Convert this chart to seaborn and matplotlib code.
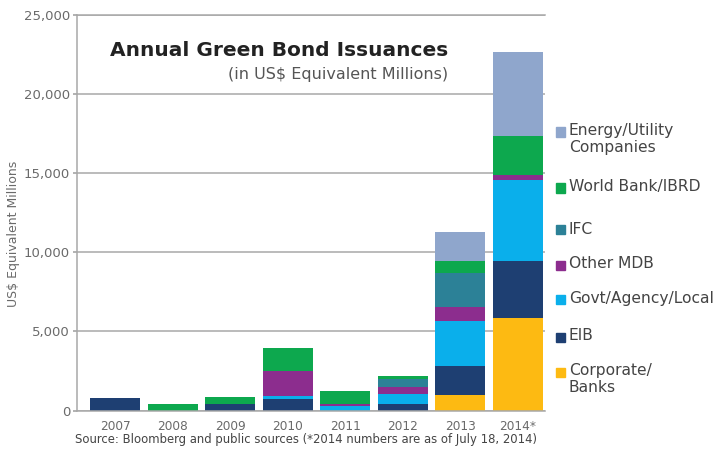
import numpy as np
import pandas as pd
import matplotlib
matplotlib.use("Agg")
import matplotlib.pyplot as plt
import seaborn as sns
from matplotlib.patches import Rectangle
from matplotlib.ticker import FuncFormatter

# ---- data (US$ equivalent millions) ----
years = ["2007", "2008", "2009", "2010", "2011", "2012", "2013", "2014*"]
energy = [0, 0, 0, 0, 0, 0, 1835, 5335]
world_bank = [0, 410, 490, 1480, 800, 150, 740, 2425]
ifc = [0, 0, 0, 0, 0, 550, 2150, 0]
other_mdb = [0, 0, 0, 1580, 130, 420, 905, 360]
govt = [0, 0, 0, 210, 300, 630, 2850, 5105]
eib = [770, 0, 380, 700, 0, 420, 1790, 3585]
corporate = [0, 0, 0, 0, 0, 0, 1010, 5865]

series_names = ["Energy/Utility Companies", "World Bank/IBRD", "IFC", "Other MDB",
                "Govt/Agency/Local", "EIB", "Corporate/Banks"]
legend_labels = ["Energy/Utility\nCompanies", "World Bank/IBRD", "IFC", "Other MDB",
                 "Govt/Agency/Local", "EIB", "Corporate/\nBanks"]
series_values = [energy, world_bank, ifc, other_mdb, govt, eib, corporate]
colors = ["#8FA6CC", "#0DA84E", "#2C8197", "#8C2D8E", "#0AAFEB", "#1E3F72", "#FDBA12"]

rows = []
for name, vals in zip(series_names, series_values):
    for i, v in enumerate(vals):
        rows.append({"year": i, "series": name, "value": v})
df = pd.DataFrame(rows)

sns.set_theme(style="white")
plt.rcParams["font.family"] = ["DejaVu Sans"]

fig = plt.figure(figsize=(7.2, 4.55), dpi=100)
ax = fig.add_axes([77 / 720, 1 - 410.5 / 455, (545 - 77) / 720, (410.5 - 15) / 455])

sns.histplot(data=df, x="year", weights="value", hue="series", hue_order=series_names,
             palette=dict(zip(series_names, colors)), multiple="stack", discrete=True,
             shrink=0.87, linewidth=0, alpha=1, legend=False, ax=ax)

grid_c = "#A8A8A8"
ax.set_xlim(-0.66, 7.47)
ax.set_ylim(0, 25000)
ax.set_yticks([0, 5000, 10000, 15000, 20000, 25000])
ax.yaxis.set_major_formatter(FuncFormatter(lambda v, p: f"{v:,.0f}"))
ax.set_xticks(range(len(years)))
ax.set_xticklabels(years)
ax.yaxis.grid(True, color=grid_c, linewidth=1.1)
ax.xaxis.grid(False)
ax.set_axisbelow(True)
for s in ["left", "top", "bottom"]:
    ax.spines[s].set_color(grid_c)
    ax.spines[s].set_linewidth(1.1)
ax.spines["right"].set_visible(False)
ax.tick_params(axis="y", which="major", length=3, color=grid_c, labelsize=9.5,
               labelcolor="#6A6A6A", pad=2, left=True)
ax.tick_params(axis="x", length=0, labelsize=8.7, labelcolor="#6A6A6A", pad=7)
ax.set_xlabel("")
ax.set_ylabel("US$ Equivalent Millions", fontsize=9, color="#6A6A6A")
ax.yaxis.set_label_coords(-0.122, 0.446)

# title & subtitle
fig.text(448 / 720, 1 - 51 / 455, "Annual Green Bond Issuances", ha="right", va="center",
         fontsize=14.5, fontweight="bold", color="#222222")
fig.text(448 / 720, 1 - 74 / 455, "(in US$ Equivalent Millions)", ha="right", va="center",
         fontsize=11.5, color="#555555")

# legend (manual, outside plot)
leg_y = [132, 188, 230, 265, 299, 337, 372]
for lab, col, yy in zip(legend_labels, colors, leg_y):
    fig.patches.append(Rectangle((556 / 720, 1 - (yy + 4.5) / 455), 9 / 720, 9 / 455,
                                 transform=fig.transFigure, color=col, figure=fig))
    fig.text(569 / 720, 1 - (yy - 8.5) / 455, lab, ha="left", va="top", fontsize=11.2,
             color="#444444", linespacing=1.12)

# source
fig.text(75 / 720, 1 - 440 / 455,
         "Source: Bloomberg and public sources (*2014 numbers are as of July 18, 2014)",
         ha="left", va="center", fontsize=8.4, color="#444444")

fig.savefig("out.png", dpi=100)
